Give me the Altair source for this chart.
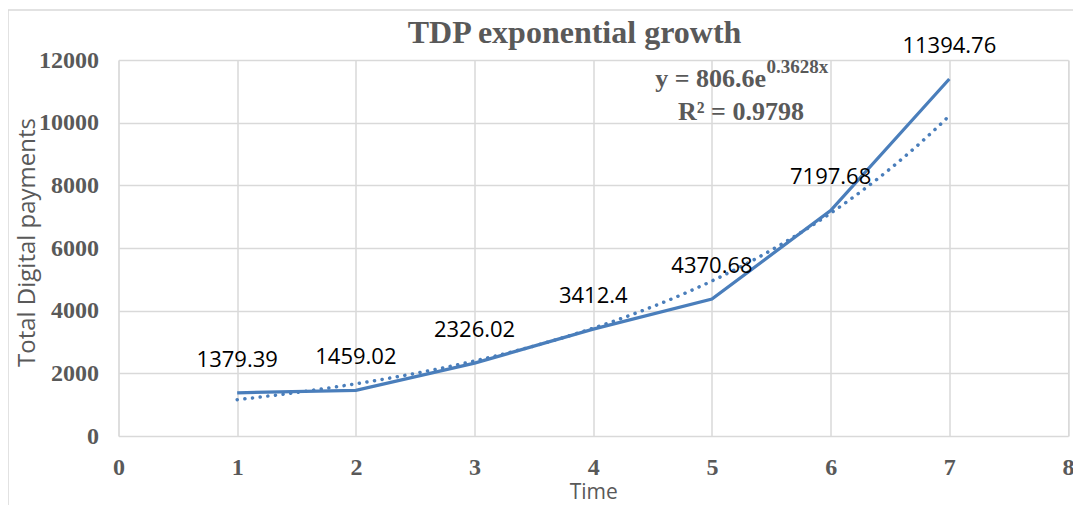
import altair as alt
import numpy as np
import pandas as pd

# ---- data ----
time = [1, 2, 3, 4, 5, 6, 7]
tdp = [1379.39, 1459.02, 2326.02, 3412.4, 4370.68, 7197.68, 11394.76]
labels = ["1379.39", "1459.02", "2326.02", "3412.4", "4370.68", "7197.68", "11394.76"]
x_ticks = [0, 1, 2, 3, 4, 5, 6, 7, 8]
y_ticks = [0, 2000, 4000, 6000, 8000, 10000, 12000]

df = pd.DataFrame({"Time": time, "TDP": tdp, "label": labels})

# exponential trendline fitted (as Excel does) by least squares on ln(y)
b, ln_a = np.polyfit(np.array(time, dtype=float), np.log(tdp), 1)
a = float(np.exp(ln_a))
tx = np.linspace(min(time), max(time), 121)
trend = pd.DataFrame({"Time": tx, "TDP": a * np.exp(b * tx)})

BLUE = "#4a7ebb"
GRAY = "#595959"
GRID = "#d9d9d9"
SERIF = "Liberation Serif"
SANS = "Open Sans"

W, H = 949.5, 376

x_enc = alt.X(
    "Time:Q",
    scale=alt.Scale(domain=[0, 8], nice=False),
    axis=alt.Axis(
        values=x_ticks, format="d", title="Time",
        grid=True, gridColor=GRID, gridWidth=1.5,
        domain=False, ticks=False, labelFlush=False,
        labelFont=SERIF, labelFontWeight="bold", labelFontSize=24, labelColor=GRAY,
        labelPadding=19,
        titleFont=SANS, titleFontSize=21, titleFontWeight="normal", titleColor=GRAY,
        titleX=W / 2, titleY=62, titleBaseline="alphabetic", titleAlign="center",
    ),
)
y_enc = alt.Y(
    "TDP:Q",
    scale=alt.Scale(domain=[0, 12000], nice=False),
    axis=alt.Axis(
        values=y_ticks, format="d", title="Total Digital payments",
        grid=True, gridColor=GRID, gridWidth=1.5,
        domain=False, ticks=False, labelFlush=False,
        labelFont=SERIF, labelFontWeight="bold", labelFontSize=24, labelColor=GRAY,
        labelPadding=20,
        titleFont=SANS, titleFontSize=24, titleFontWeight="normal", titleColor=GRAY,
        titleX=-91, titleY=182, titleAngle=-90, titleBaseline="middle", titleAlign="center",
    ),
)

one = pd.DataFrame({"k": [0]})

frame = alt.Chart(one).mark_rect(
    fillOpacity=0, stroke=GRID, strokeWidth=1.5
).encode(
    x=alt.value(-110.5), x2=alt.value(1200), y=alt.value(-50), y2=alt.value(700)
)

trend_line = alt.Chart(trend).mark_line(
    color=BLUE, strokeWidth=3.5, strokeDash=[0.1, 7.6], strokeCap="round"
).encode(x=x_enc, y=y_enc)

main_line = alt.Chart(df).mark_line(color=BLUE, strokeWidth=3.25).encode(x=x_enc, y=y_enc)

point_labels = alt.Chart(df).mark_text(
    font=SANS, fontSize=22, color="black", dy=-33, baseline="middle", align="center"
).encode(x=x_enc, y=y_enc, text="label:N")

title = alt.Chart(one).mark_text(
    text="TDP exponential growth", font=SERIF, fontSize=32, fontWeight="bold",
    color=GRAY, align="center", baseline="alphabetic"
).encode(x=alt.value(456), y=alt.value(-17))

eq1 = alt.Chart(one).mark_text(
    text="y = 806.6e", font=SERIF, fontSize=26, fontWeight="bold",
    color=GRAY, align="right", baseline="alphabetic"
).encode(x=alt.value(647.5), y=alt.value(27))

eq_sup = alt.Chart(one).mark_text(
    text="0.3628x", font=SERIF, fontSize=19, fontWeight="bold",
    color=GRAY, align="left", baseline="alphabetic"
).encode(x=alt.value(648), y=alt.value(13))

eq2 = alt.Chart(one).mark_text(
    text="R² = 0.9798", font=SERIF, fontSize=26, fontWeight="bold",
    color=GRAY, align="left", baseline="alphabetic"
).encode(x=alt.value(559.5), y=alt.value(60))

chart = alt.layer(
    frame, trend_line, main_line, point_labels, title, eq1, eq_sup, eq2
).properties(
    width=W, height=H,
    autosize=alt.AutoSizeParams(type="none"),
    padding={"left": 110.5, "top": 52, "right": 5, "bottom": 71},
).configure_view(stroke=None).configure(background="white")

chart.save("out.html", embed_options={"renderer": "svg", "actions": False})
